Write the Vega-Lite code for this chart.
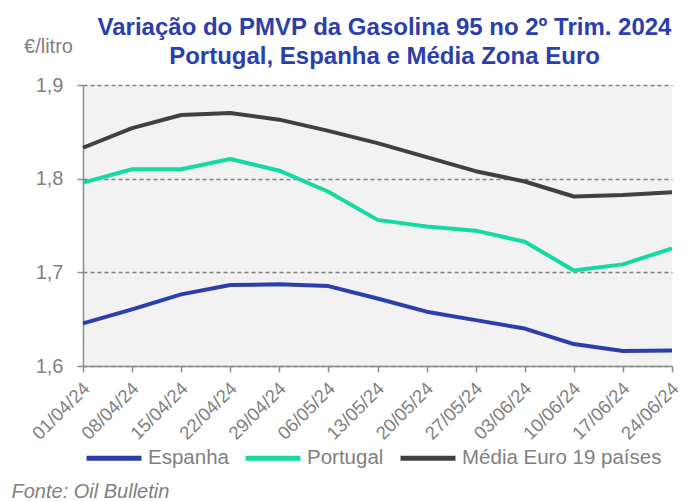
{
  "$schema": "https://vega.github.io/schema/vega-lite/v6.json",
  "width": 589,
  "height": 281,
  "autosize": {"type": "none"},
  "padding": {"left": 83, "top": 85, "right": 18, "bottom": 135},
  "background": "white",
  "config": {
    "font": "Liberation Sans",
    "view": {"fill": "#f2f2f2", "stroke": null}
  },
  "title": {
    "text": ["Variação do PMVP da Gasolina 95 no 2º Trim. 2024", "Portugal, Espanha e Média Zona Euro"],
    "font": "Liberation Sans",
    "fontSize": 24,
    "fontWeight": "bold",
    "color": "#2b3eab",
    "anchor": "middle",
    "dx": 7,
    "dy": 53,
    "offset": 20,
    "lineHeight": 29
  },
  "data": {
    "values": [
      {"date": "01/04/24", "serie": "Espanha", "v": 1.6455},
      {"date": "08/04/24", "serie": "Espanha", "v": 1.6605},
      {"date": "15/04/24", "serie": "Espanha", "v": 1.6765},
      {"date": "22/04/24", "serie": "Espanha", "v": 1.6864},
      {"date": "29/04/24", "serie": "Espanha", "v": 1.6872},
      {"date": "06/05/24", "serie": "Espanha", "v": 1.6853},
      {"date": "13/05/24", "serie": "Espanha", "v": 1.672},
      {"date": "20/05/24", "serie": "Espanha", "v": 1.658},
      {"date": "27/05/24", "serie": "Espanha", "v": 1.649},
      {"date": "03/06/24", "serie": "Espanha", "v": 1.640},
      {"date": "10/06/24", "serie": "Espanha", "v": 1.6234},
      {"date": "17/06/24", "serie": "Espanha", "v": 1.616},
      {"date": "24/06/24", "serie": "Espanha", "v": 1.6165},
      {"date": "01/04/24", "serie": "Portugal", "v": 1.7957},
      {"date": "08/04/24", "serie": "Portugal", "v": 1.810},
      {"date": "15/04/24", "serie": "Portugal", "v": 1.810},
      {"date": "22/04/24", "serie": "Portugal", "v": 1.821},
      {"date": "29/04/24", "serie": "Portugal", "v": 1.8085},
      {"date": "06/05/24", "serie": "Portugal", "v": 1.786},
      {"date": "13/05/24", "serie": "Portugal", "v": 1.756},
      {"date": "20/05/24", "serie": "Portugal", "v": 1.749},
      {"date": "27/05/24", "serie": "Portugal", "v": 1.7445},
      {"date": "03/06/24", "serie": "Portugal", "v": 1.7327},
      {"date": "10/06/24", "serie": "Portugal", "v": 1.702},
      {"date": "17/06/24", "serie": "Portugal", "v": 1.7085},
      {"date": "24/06/24", "serie": "Portugal", "v": 1.7256},
      {"date": "01/04/24", "serie": "Média Euro 19 países", "v": 1.833},
      {"date": "08/04/24", "serie": "Média Euro 19 países", "v": 1.854},
      {"date": "15/04/24", "serie": "Média Euro 19 países", "v": 1.868},
      {"date": "22/04/24", "serie": "Média Euro 19 países", "v": 1.870},
      {"date": "29/04/24", "serie": "Média Euro 19 países", "v": 1.863},
      {"date": "06/05/24", "serie": "Média Euro 19 países", "v": 1.851},
      {"date": "13/05/24", "serie": "Média Euro 19 países", "v": 1.838},
      {"date": "20/05/24", "serie": "Média Euro 19 países", "v": 1.823},
      {"date": "27/05/24", "serie": "Média Euro 19 países", "v": 1.808},
      {"date": "03/06/24", "serie": "Média Euro 19 países", "v": 1.797},
      {"date": "10/06/24", "serie": "Média Euro 19 países", "v": 1.781},
      {"date": "17/06/24", "serie": "Média Euro 19 países", "v": 1.7825},
      {"date": "24/06/24", "serie": "Média Euro 19 países", "v": 1.7855}
    ]
  },
  "mark": {"type": "line", "strokeWidth": 4, "strokeJoin": "round"},
  "encoding": {
    "x": {
      "field": "date",
      "type": "ordinal",
      "sort": null,
      "scale": {"type": "point", "padding": 0},
      "axis": {
        "title": "Fonte: Oil Bulletin",
        "titleFont": "Liberation Sans",
        "titleFontStyle": "italic",
        "titleFontWeight": "normal",
        "titleFontSize": 20,
        "titleColor": "#7f7f7f",
        "titleAnchor": "start",
        "titleAlign": "left",
        "titleBaseline": "alphabetic",
        "titleX": -72,
        "titleY": 131,
        "labelAngle": -45,
        "labelAlign": "right",
        "labelBaseline": "middle",
        "labelFontSize": 18.5,
        "labelColor": "#7f7f7f",
        "labelPadding": 13,
        "labelOffset": 3,
        "domainColor": "#8c8c8c",
        "domainWidth": 1.5,
        "tickColor": "#8c8c8c",
        "tickSize": 6,
        "tickWidth": 1.5,
        "grid": false
      }
    },
    "y": {
      "field": "v",
      "type": "quantitative",
      "scale": {"domain": [1.6, 1.9], "zero": false, "nice": false},
      "axis": {
        "title": "€/litro",
        "titleAngle": 0,
        "titleFontWeight": "normal",
        "titleFontSize": 20,
        "titleColor": "#7f7f7f",
        "titleAlign": "center",
        "titleBaseline": "alphabetic",
        "titleX": -35,
        "titleY": -33,
        "values": [1.6, 1.7, 1.8, 1.9],
        "labelExpr": "replace(format(datum.value, '.1f'), '.', ',')",
        "labelFontSize": 20,
        "labelColor": "#7f7f7f",
        "labelPadding": 14,
        "domainColor": "#8c8c8c",
        "domainWidth": 1.5,
        "tickColor": "#8c8c8c",
        "tickSize": 6,
        "tickWidth": 1.5,
        "grid": true,
        "gridColor": "#808080",
        "gridDash": [4, 3],
        "gridWidth": 1.5
      }
    },
    "color": {
      "field": "serie",
      "type": "nominal",
      "sort": ["Espanha", "Portugal", "Média Euro 19 países"],
      "scale": {
        "domain": ["Espanha", "Portugal", "Média Euro 19 países"],
        "range": ["#2b3eab", "#14d9a0", "#404040"]
      },
      "legend": {
        "title": null,
        "orient": "none",
        "direction": "horizontal",
        "legendX": 1,
        "legendY": 343,
        "symbolType": "stroke",
        "symbolSize": 3025,
        "symbolStrokeWidth": 5,
        "labelFontSize": 20.5,
        "labelColor": "#7f7f7f",
        "labelOffset": 4,
        "columnPadding": 6,
        "labelLimit": 300
      }
    }
  }
}
